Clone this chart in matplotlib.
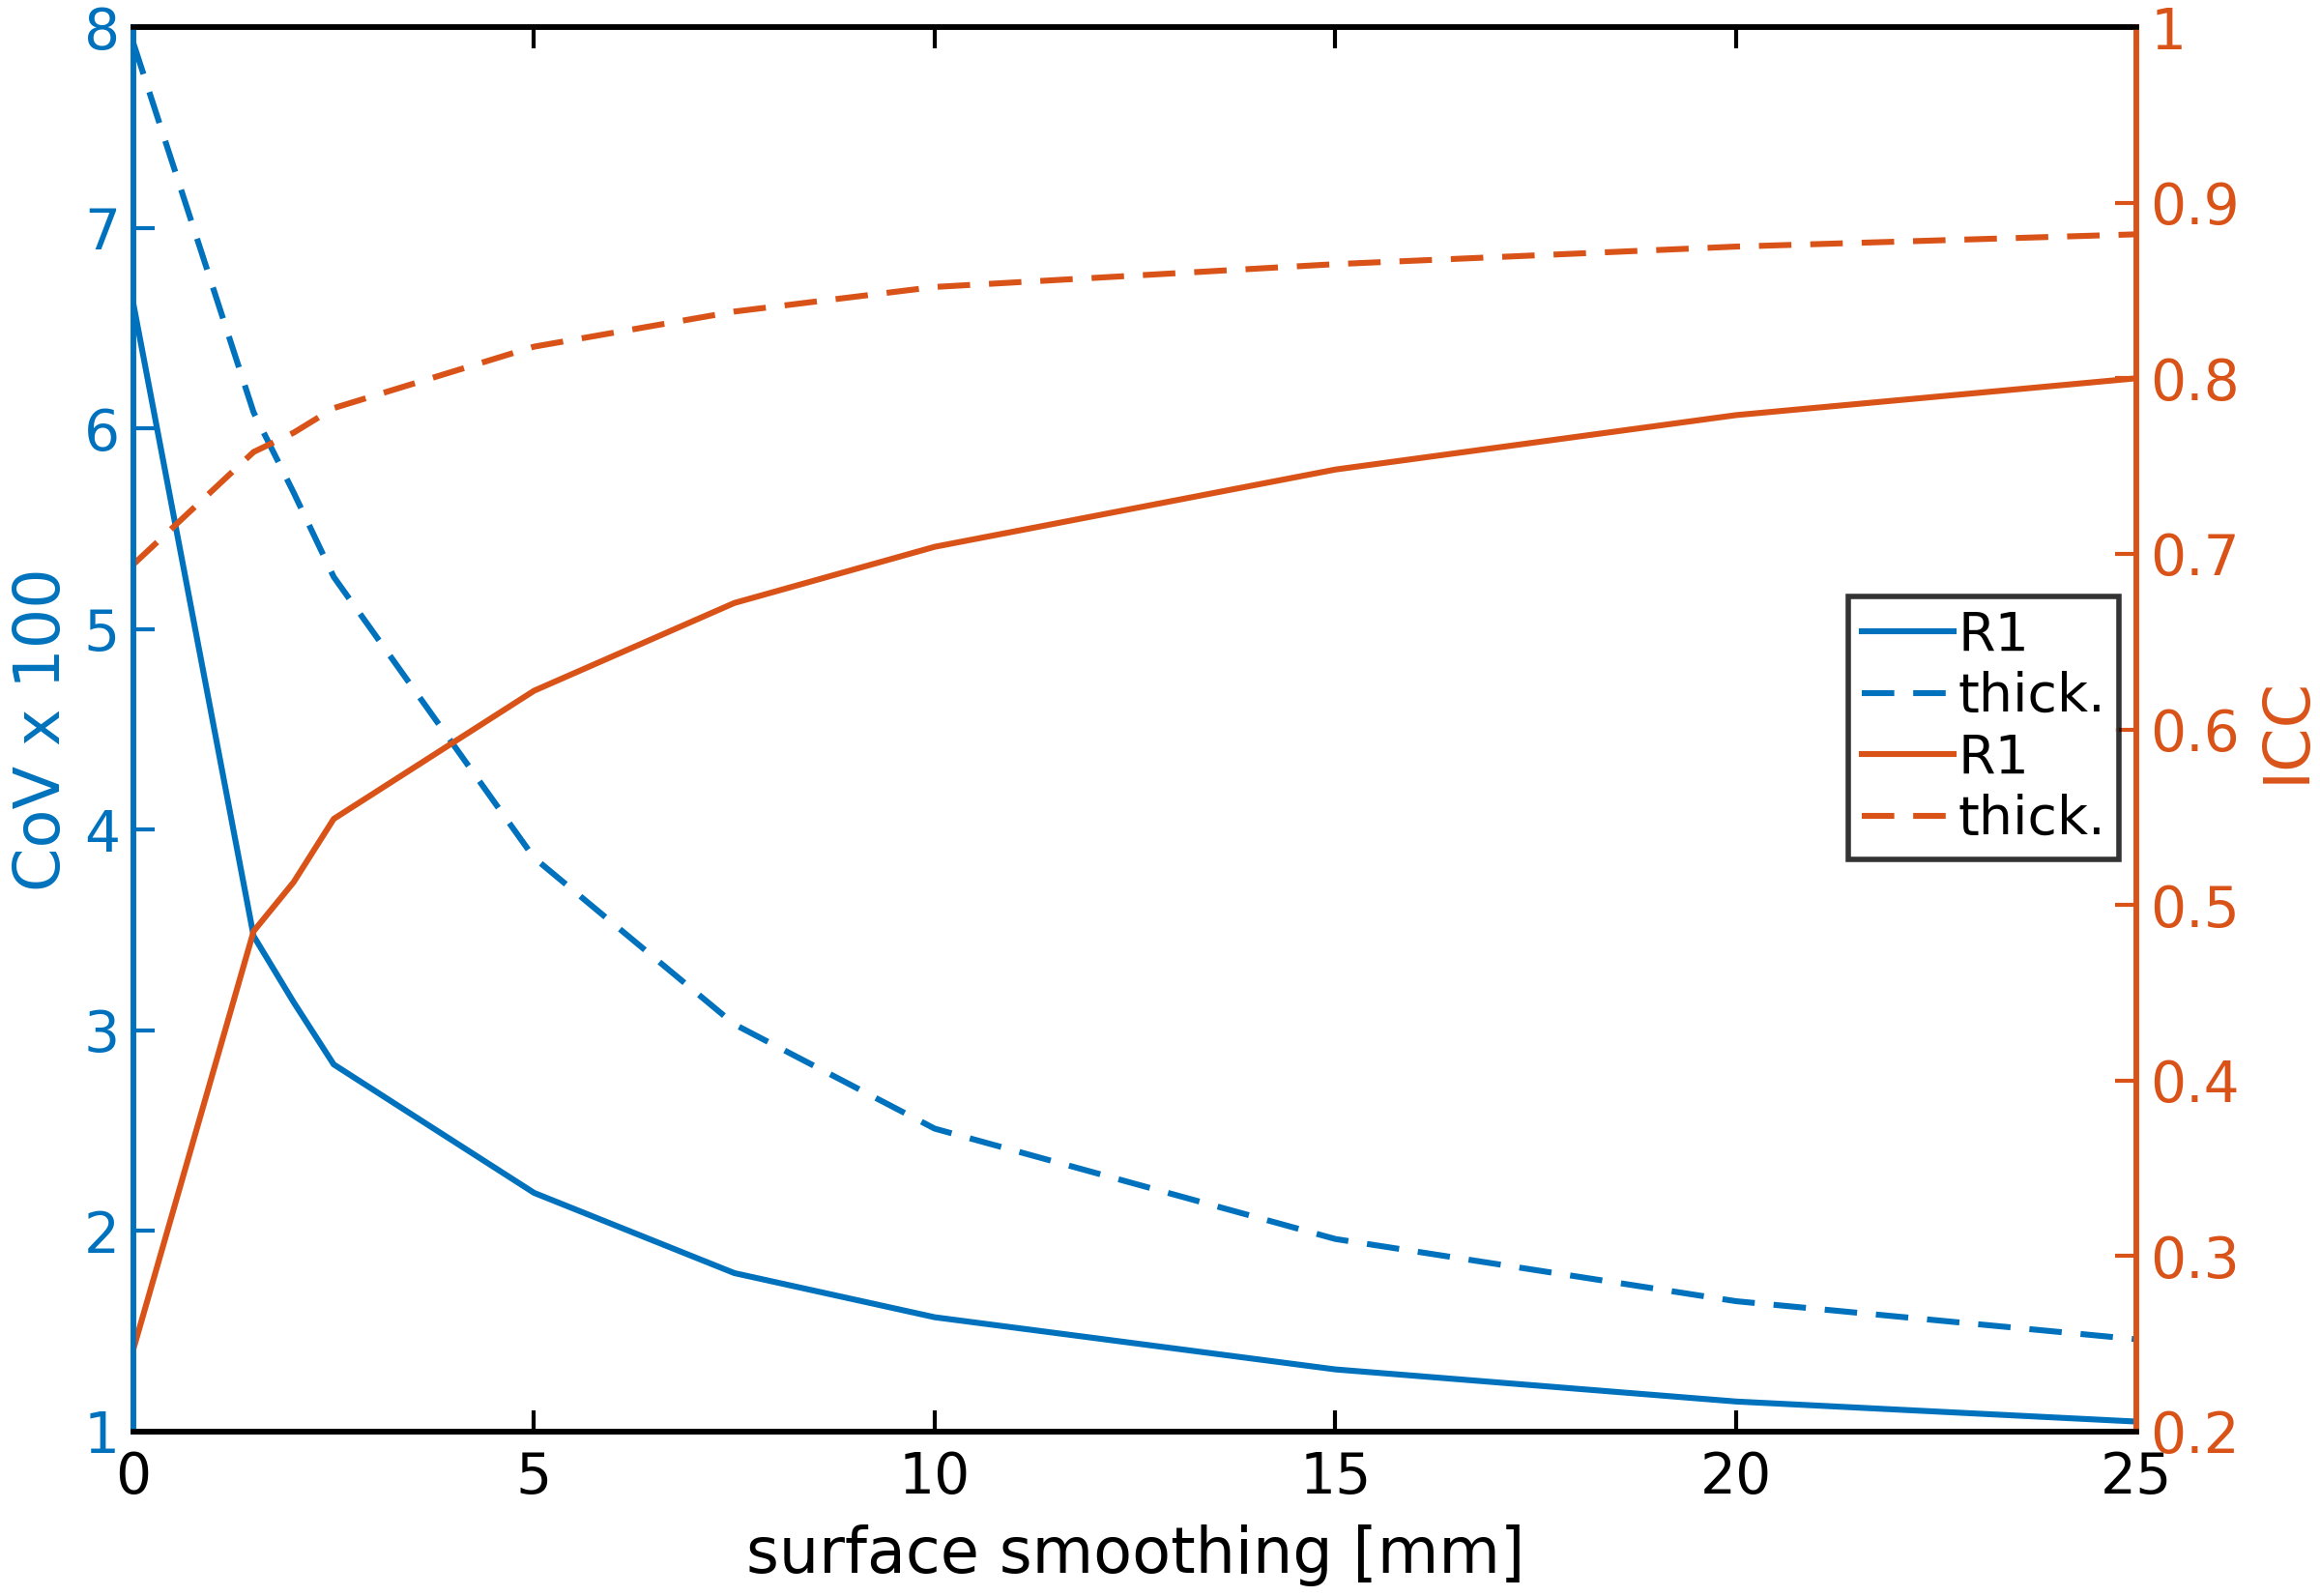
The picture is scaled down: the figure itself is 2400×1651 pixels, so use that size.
import matplotlib
matplotlib.use("Agg")
import matplotlib.pyplot as plt

# smoothing kernel widths [mm]
smoothing = [0, 1.5, 2, 2.5, 5, 7.5, 10, 15, 20, 25]

# coefficient of variation (x100)
cov_r1 = [6.62, 3.47, 3.14, 2.83, 2.19, 1.79, 1.57, 1.31, 1.15, 1.05]
cov_thick = [7.92, 6.08, 5.68, 5.26, 3.86, 3.03, 2.51, 1.96, 1.65, 1.46]

# intraclass correlation
icc_r1 = [0.247, 0.485, 0.513, 0.549, 0.622, 0.672, 0.704, 0.748, 0.779, 0.800]
icc_thick = [0.694, 0.758, 0.769, 0.783, 0.818, 0.838, 0.852, 0.865, 0.875, 0.882]

blue = "#0072BD"
orange = "#D95319"
lw = 2.2
dash = (5.5, 3.2)

plt.rcParams['font.family'] = ['DejaVu Sans']

fig = plt.figure(figsize=(12, 8.255), dpi=200)
ax = fig.add_axes([0.0575, 0.103, 0.8635, 0.880])
ax2 = ax.twinx()

l1, = ax.plot(smoothing, cov_r1, color=blue, lw=lw, label="R1")
l2, = ax.plot(smoothing, cov_thick, color=blue, lw=lw, ls="--", dashes=dash, label="thick.")
l3, = ax2.plot(smoothing, icc_r1, color=orange, lw=lw, label="R1")
l4, = ax2.plot(smoothing, icc_thick, color=orange, lw=lw, ls="--", dashes=dash, label="thick.")

ax.set_xlim(0, 25)
ax.set_ylim(1, 8)
ax2.set_ylim(0.2, 1)
ax.set_xticks([0, 5, 10, 15, 20, 25])
ax.set_yticks(range(1, 9))
ax2.set_yticks([0.2, 0.3, 0.4, 0.5, 0.6, 0.7, 0.8, 0.9, 1.0])
ax2.set_yticklabels(["0.2", "0.3", "0.4", "0.5", "0.6", "0.7", "0.8", "0.9", "1"])

# spines: black top/bottom, coloured sides
for a in (ax, ax2):
    for s in a.spines.values():
        s.set_linewidth(2.0)
    a.spines['top'].set_color('black')
    a.spines['bottom'].set_color('black')
    a.spines['left'].set_color(blue)
    a.spines['right'].set_color(orange)

ax.tick_params(axis='x', direction='in', length=8, width=1.5, labelsize=21,
               top=True, colors='black', pad=7)
ax.tick_params(axis='y', direction='in', length=8, width=1.5, labelsize=21,
               colors=blue, pad=5)
ax2.tick_params(axis='y', direction='in', length=8, width=1.5, labelsize=21,
                colors=orange, pad=5)

ax.set_xlabel("surface smoothing [mm]", fontsize=23.5, labelpad=7)
ax.set_ylabel("CoV x 100", fontsize=23.5, color=blue, labelpad=4)
ax2.set_ylabel("ICC", fontsize=23.5, color=orange, rotation=90, labelpad=6)

leg = fig.legend([l1, l2, l3, l4], ["R1", "thick.", "R1", "thick."],
                 loc='center', bbox_to_anchor=(0.855, 0.544), fontsize=20,
                 frameon=True, fancybox=False, edgecolor='black',
                 handlelength=1.7, handletextpad=0.08, borderpad=0.25,
                 labelspacing=0.17, borderaxespad=0)
leg.get_frame().set_linewidth(2.0)

fig.savefig("out.png", dpi=200, facecolor='white')
